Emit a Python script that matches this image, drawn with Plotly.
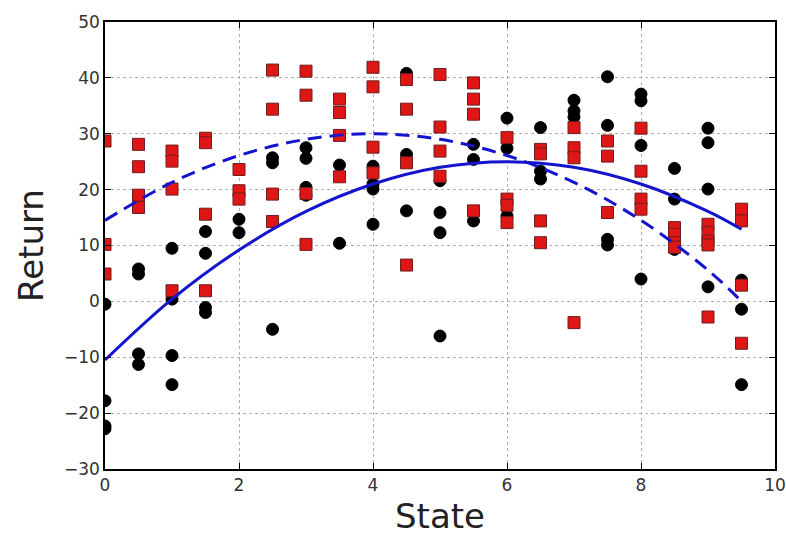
import plotly.graph_objects as go

# Black circles (state, return)
black_x = ([0]*4 + [0.5]*4 + [1]*4 + [1.5]*4 + [2]*2 + [2.5]*3 + [3]*4 + [3.5]*2 +
           [4]*4 + [4.5]*3 + [5]*4 + [5.5]*3 + [6]*3 + [6.5]*3 + [7]*3 + [7.5]*4 +
           [8]*4 + [8.5]*3 + [9]*4 + [9.5]*3)
black_y = [-0.5, -17.8, -22.3, -22.8,
           5.8, 4.9, -9.4, -11.3,
           9.5, 0.4, -9.7, -14.9,
           12.5, 8.6, -1.1, -2.0,
           14.7, 12.3,
           25.7, 24.8, -5.0,
           27.5, 25.6, 20.4, 19.0,
           24.4, 10.4,
           24.2, 21.0, 20.1, 13.8,
           40.8, 26.3, 16.2,
           21.6, 15.9, 12.3, -6.2,
           28.1, 25.4, 14.4,
           32.8, 27.4, 15.3,
           31.1, 23.3, 21.9,
           36.0, 34.1, 33.0,
           40.2, 31.5, 11.1, 10.1,
           37.1, 35.9, 27.9, 4.0,
           23.8, 18.3, 9.3,
           31.0, 28.4, 20.1, 2.6,
           3.8, -1.4, -14.9]

# Red squares (state, return)
red_x = ([0]*3 + [0.5]*4 + [1]*4 + [1.5]*4 + [2]*3 + [2.5]*4 + [3]*4 + [3.5]*4 +
         [4]*4 + [4.5]*4 + [5]*4 + [5.5]*4 + [6]*4 + [6.5]*4 + [7]*4 + [7.5]*3 +
         [8]*4 + [8.5]*4 + [9]*5 + [9.5]*4)
red_y = [28.7, 10.2, 4.9,
         28.1, 24.1, 19.0, 16.8,
         26.9, 25.1, 20.1, 1.9,
         29.2, 28.4, 15.6, 1.9,
         23.6, 19.8, 18.3,
         41.4, 34.4, 19.2, 14.3,
         41.2, 36.9, 19.3, 10.2,
         36.2, 33.8, 29.7, 22.3,
         41.9, 38.4, 27.6, 23.0,
         39.7, 34.4, 24.8, 6.5,
         40.6, 31.2, 26.9, 22.4,
         39.1, 36.2, 33.5, 16.2,
         29.3, 18.3, 17.2, 14.1,
         27.2, 26.4, 14.4, 10.5,
         31.1, 27.5, 25.7, -3.8,
         28.7, 26.0, 15.9,
         31.0, 23.3, 18.3, 16.5,
         13.2, 12.0, 10.5, 9.7,
         13.8, 12.3, 10.8, 10.1, -2.8,
         16.5, 14.4, 2.9, -7.5]

# Fitted curves
curve_x = [0, 1, 2, 3, 4, 5, 6, 7, 8, 9, 9.5]
solid_y = [-10.5, 0.4, 9.2, 16.1, 21.0, 24.0, 25.0, 24.0, 21.0, 16.1, 12.9]
dashed_y = [14.5, 21.3, 26.1, 29.0, 30.0, 29.0, 26.1, 21.3, 14.5, 5.6, 0.0]

x_ticks = [0, 2, 4, 6, 8, 10]
y_ticks = [-30, -20, -10, 0, 10, 20, 30, 40, 50]

fig = go.Figure()
fig.add_trace(go.Scatter(x=black_x, y=black_y, mode="markers",
                         marker=dict(symbol="circle", size=12, color="black",
                                     line=dict(color="black", width=1)),
                         showlegend=False))
fig.add_trace(go.Scatter(x=red_x, y=red_y, mode="markers",
                         marker=dict(symbol="square", size=12, color="rgb(222,22,22)",
                                     line=dict(color="rgb(110,30,30)", width=1)),
                         showlegend=False))
fig.add_trace(go.Scatter(x=curve_x, y=solid_y, mode="lines",
                         line=dict(color="rgb(20,20,205)", width=3, shape="spline"),
                         showlegend=False))
fig.add_trace(go.Scatter(x=curve_x, y=dashed_y, mode="lines",
                         line=dict(color="rgb(20,20,205)", width=3, shape="spline",
                                   dash="14px,8px"),
                         showlegend=False))

axis_common = dict(
    showline=True, linecolor="black", linewidth=1.5, mirror="ticks",
    ticks="inside", ticklen=6, tickcolor="black", tickwidth=1,
    showgrid=True, gridcolor="rgb(175,175,175)", gridwidth=1, griddash="3px,3px",
    zeroline=False, automargin=False,
    tickfont=dict(family="DejaVu Sans", size=17, color="#333333"),
)

fig.update_xaxes(range=[0, 10], tickvals=x_ticks,
                 title=dict(text="State", font=dict(family="DejaVu Sans", size=34, color="#222222"),
                            standoff=12),
                 **axis_common)
fig.update_yaxes(range=[-30, 50], tickvals=y_ticks,
                 title=dict(text="Return", font=dict(family="DejaVu Sans", size=34, color="#222222"),
                            standoff=10),
                 **axis_common)

fig.update_layout(
    width=786, height=536,
    margin=dict(l=105, r=11, t=22, b=67),
    paper_bgcolor="white", plot_bgcolor="white",
)

fig.write_html("out.html")
